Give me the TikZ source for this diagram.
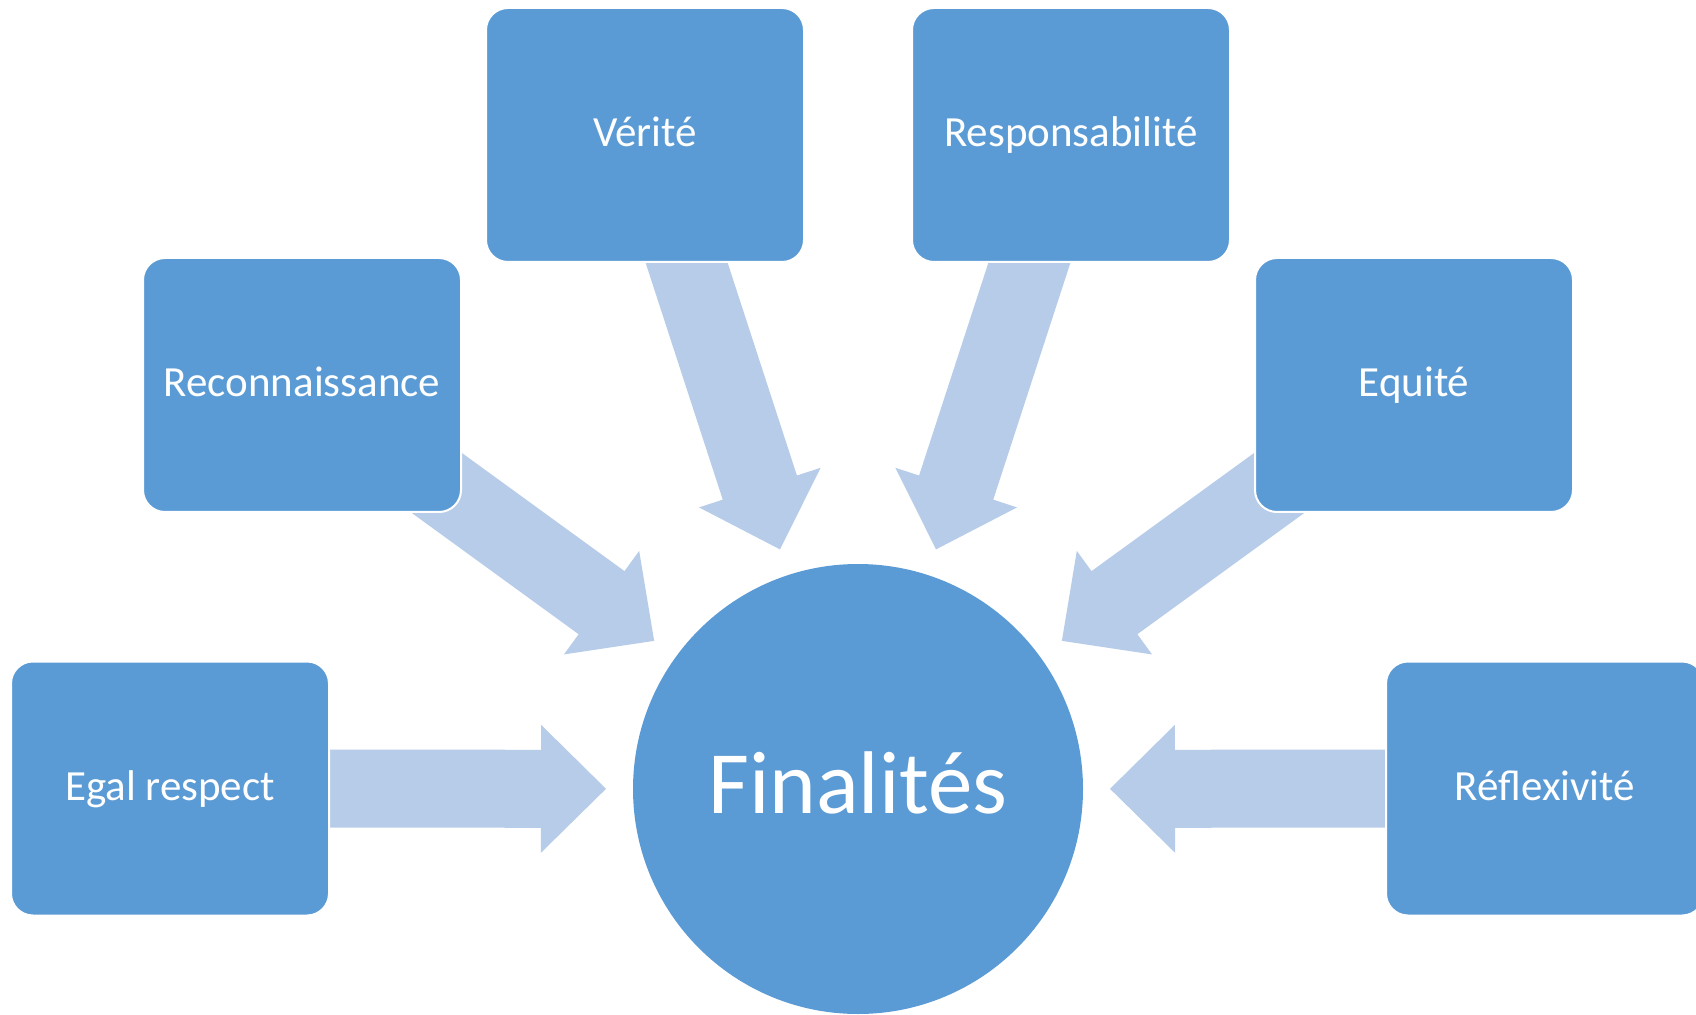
\documentclass[tikz,border=0pt]{standalone}
\usepackage{fontspec}
\setmainfont{Carlito}
\usetikzlibrary{calc,backgrounds}
\definecolor{boxblue}{HTML}{5B9BD5}
\definecolor{arrowblue}{HTML}{B7CCE8}

\begin{document}
\begin{tikzpicture}[x=0.5pt,y=0.5pt,
    valeur/.style ={rectangle, rounded corners=11pt, fill=boxblue, draw=white, line width=1pt,
      minimum width=159pt, minimum height=127pt, text=white, text height=12pt, text depth=0pt,
      font=\fontsize{21.5}{26}\selectfont},
    finalite/.style ={circle, fill=boxblue, minimum size=225pt, inner sep=0pt, text=white,
      text height=24pt, text depth=0pt, font=\fontsize{44.5}{53}\selectfont},
    fleche/.style ={fill=arrowblue, to path={
      ($(\tikztostart)!19.5pt!-90:(\tikztotarget)$)
      -- ($(\tikztotarget)!32.5pt!(\tikztostart)!19.5pt!-90:(\tikztotarget)$)
      -- ($(\tikztotarget)!32.5pt!(\tikztostart)!32pt!-90:(\tikztotarget)$)
      -- (\tikztotarget)
      -- ($(\tikztotarget)!32.5pt!(\tikztostart)!32pt!90:(\tikztotarget)$)
      -- ($(\tikztotarget)!32.5pt!(\tikztostart)!19.5pt!90:(\tikztotarget)$)
      -- ($(\tikztostart)!19.5pt!90:(\tikztotarget)$) -- cycle}}]
   \useasboundingbox (0,0) rectangle (1696,-1015);

   \node[finalite] (F)  at (858,-789)  {Finalités};
   \node[valeur] (Ve)  at (645,-135)  {Vérité};
   \node[valeur] (Rs)  at (1071,-135)  {Responsabilité};
   \node[valeur] (Rc)  at (302,-385)  {Reconnaissance};
   \node[valeur] (Eq)  at (1414,-385)  {Equité};
   \node[valeur] (Eg)  at (170,-788.5)  {Egal respect};
   \node[valeur] (Rf)  at (1545,-788.5)  {Réflexivité};

   % pointes des fleches
   \coordinate (tVe) at ($(F)!126pt!(Ve)$);
   \coordinate (tRs) at ($(F)!126pt!(Rs)$);
   \coordinate (tRc) at ($(F)!126pt!(Rc)$);
   \coordinate (tEq) at ($(F)!126pt!(Eq)$);
   \coordinate (tEg) at ($(F)!126pt!(Eg)$);
   \coordinate (tRf) at ($(F)!126pt!(Rf)$);

   \begin{pgfonlayer}{background}
   \fill[fleche] (Ve) to (tVe);
   \fill[fleche] (Rs) to (tRs);
   \fill[fleche] (Rc) to (tRc);
   \fill[fleche] (Eq) to (tEq);
   \fill[fleche] (Eg) to (tEg);
   \fill[fleche] (Rf) to (tRf);
   \end{pgfonlayer}
 \end{tikzpicture}
\end{document}
